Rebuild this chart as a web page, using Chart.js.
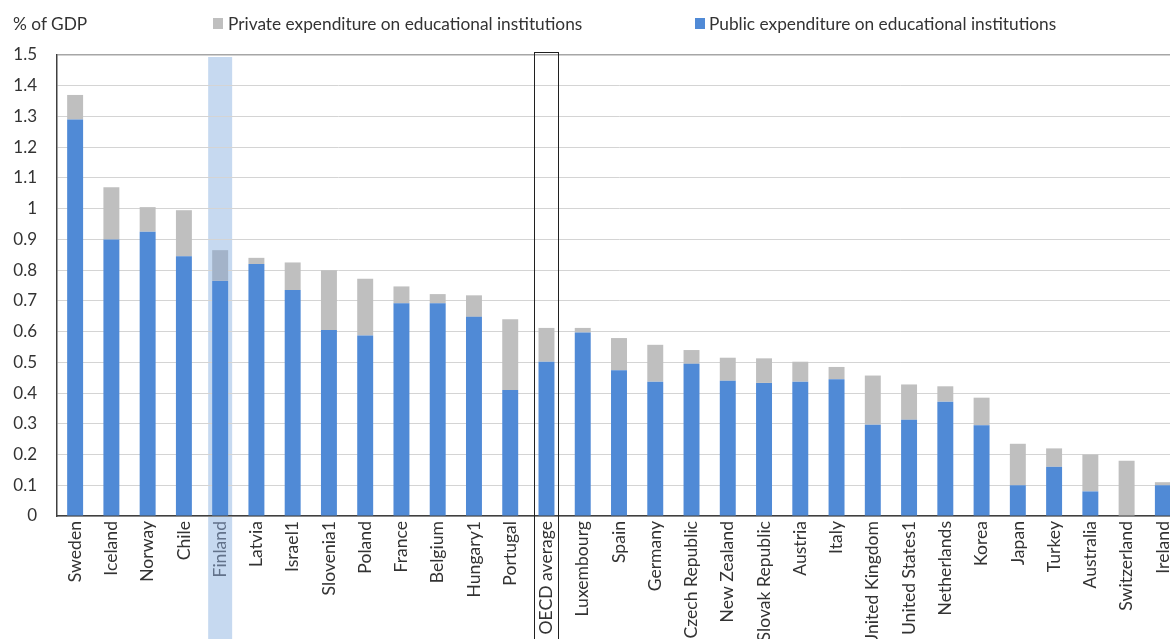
<!DOCTYPE html>
<html>
<head>
<meta charset="utf-8">
<script src="https://cdn.jsdelivr.net/npm/chart.js@4.4.1/dist/chart.umd.min.js"></script>
<style>
  html, body { margin: 0; padding: 0; background: #fff; overflow: hidden; width: 1170px; height: 639px; }
  #wrap { position: relative; width: 1190px; height: 639px; }
  #c { position: absolute; left: 0; top: 0; }
  .txt { position: absolute; font-family: Lato, "Open Sans", sans-serif; font-size: 17.3px; color: #333; white-space: nowrap; line-height: 17px; }
  .sw { position: absolute; width: 10px; height: 11px; }
</style>
</head>
<body>
<div id="wrap">
  <canvas id="c" width="1190" height="639"></canvas>
  <div class="txt" style="left:13px; top:15px;">% of GDP</div>
  <div class="sw" style="left:213px; top:18px; background:#bfbfbf;"></div>
  <div class="txt" style="left:228px; top:15px;">Private expenditure on educational institutions</div>
  <div class="sw" style="left:695px; top:18px; background:#508ad6;"></div>
  <div class="txt" style="left:709px; top:15px;">Public expenditure on educational institutions</div>
</div>
<script>
const categories = ["Sweden","Iceland","Norway","Chile","Finland","Latvia","Israel1","Slovenia1","Poland","France","Belgium","Hungary1","Portugal","OECD average","Luxembourg","Spain","Germany","Czech Republic","New Zealand","Slovak Republic","Austria","Italy","United Kingdom","United States1","Netherlands","Korea","Japan","Turkey","Australia","Switzerland","Ireland"];
const publicValues = [1.29,0.90,0.925,0.845,0.765,0.82,0.735,0.605,0.587,0.692,0.692,0.648,0.41,0.502,0.597,0.474,0.437,0.495,0.44,0.433,0.437,0.445,0.297,0.313,0.372,0.295,0.10,0.16,0.08,0,0.10];
const privateValues = [0.08,0.17,0.08,0.15,0.10,0.02,0.09,0.195,0.185,0.055,0.03,0.07,0.23,0.11,0.015,0.105,0.12,0.045,0.075,0.08,0.065,0.04,0.16,0.115,0.05,0.09,0.135,0.06,0.12,0.18,0.01];
const yTickLabels = ["0","0.1","0.2","0.3","0.4","0.5","0.6","0.7","0.8","0.9","1","1.1","1.2","1.3","1.4","1.5"];
const highlightCategory = "Finland";
const boxedCategory = "OECD average";

const BLUE = '#508ad6', GRAY = '#bfbfbf', HL_GRAY = '#a3b3c9';

const overlays = {
  id: 'overlays',
  beforeDraw(chart) {
    const x = chart.scales.x, ctx = chart.ctx;
    const i = categories.indexOf(highlightCategory);
    const cx = x.getPixelForValue(i);
    ctx.save();
    ctx.fillStyle = '#c6d9f0';
    ctx.fillRect(cx - 12, chart.chartArea.top + 2, 24, chart.height);
    ctx.restore();
  },
  afterDraw(chart) {
    const x = chart.scales.x, ctx = chart.ctx;
    const i = categories.indexOf(boxedCategory);
    const cx = x.getPixelForValue(i);
    ctx.save();
    ctx.strokeStyle = '#202020';
    ctx.lineWidth = 1;
    ctx.strokeRect(Math.round(cx - 12) + 0.5, chart.chartArea.top - 2.5, 24, chart.height);
    ctx.restore();
  }
};

new Chart(document.getElementById('c'), {
  type: 'bar',
  data: {
    labels: categories,
    datasets: [
      { label: 'Public expenditure on educational institutions', data: publicValues, backgroundColor: BLUE, barPercentage: 0.88, categoryPercentage: 0.5 },
      { label: 'Private expenditure on educational institutions', data: privateValues,
        backgroundColor: categories.map(c => c === highlightCategory ? HL_GRAY : GRAY), barPercentage: 0.88, categoryPercentage: 0.5 }
    ]
  },
  options: {
    responsive: false,
    animation: false,
    devicePixelRatio: 1,
    layout: { padding: { top: 55, right: 9, left: 0, bottom: 0 } },
    plugins: { legend: { display: false }, tooltip: { enabled: false } },
    scales: {
      x: {
        stacked: true,
        grid: { display: false, drawTicks: false },
        border: { display: true, color: '#404040', width: 1.5 },
        ticks: {
          autoSkip: false, maxRotation: 90, minRotation: 90, padding: 5,
          font: { family: 'Lato', size: 17.6 },
          color: (c) => categories[c.index] === highlightCategory ? '#62728a' : '#333'
        },
        afterFit(s) { s.height = 123; }
      },
      y: {
        stacked: true,
        min: 0, max: 1.5,
        ticks: {
          stepSize: 0.1, padding: 20,
          font: { family: 'Lato', size: 17 }, color: '#333',
          callback: (v, i) => yTickLabels[i]
        },
        grid: {
          drawTicks: false,
          color: (c) => c.index === yTickLabels.length - 1 ? '#a6a6a6' : '#d4d4d4',
          lineWidth: (c) => c.index === yTickLabels.length - 1 ? 1.5 : 1
        },
        border: { display: true, color: '#404040', width: 1.5 },
        afterFit(s) { s.width = 57; }
      }
    }
  },
  plugins: [overlays]
});
</script>
</body>
</html>
